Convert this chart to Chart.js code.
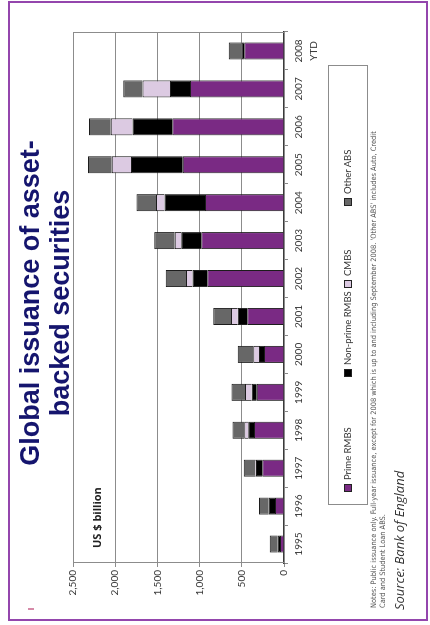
<!DOCTYPE html>
<html>
<head>
<meta charset="utf-8">
<script src="https://cdn.jsdelivr.net/npm/chart.js@4/dist/chart.umd.min.js"></script>
<style>
  body { margin: 0; background: #fff; width: 430px; height: 625px; overflow: hidden; position: relative; }
  /* slide frame, drawn in screen orientation */
  #frame { position: absolute; left: 8px; top: 1px; width: 420px; height: 620px; box-sizing: border-box; border: 2px solid #9446ad; }
  #mark { position: absolute; left: 28px; top: 608px; width: 6px; height: 2px; background: #d68aa8; }
  /* the slide content is laid out landscape and turned a quarter turn */
  #page { position: absolute; left: 0; top: 0; width: 625px; height: 430px; transform-origin: 0 0; transform: translate(0, 625px) rotate(-90deg); }
  #page canvas { position: absolute; left: 0; top: 0; }
  #title { position: absolute; left: 122px; top: 15px; width: 400px; text-align: center; font: bold 27px/30px "Liberation Sans", Arial, sans-serif; color: #15156e; }
  #unit { position: absolute; left: 77px; top: 89px; font: bold 11px "Open Sans", sans-serif; color: #222; white-space: nowrap; }
  #legend { position: absolute; left: 120px; top: 328px; width: 440px; height: 40px; box-sizing: border-box; border: 1px solid #8c8c8c; }
  .item { position: absolute; top: 13px; font: 9.5px Lato, sans-serif; color: #333; white-space: nowrap; display: flex; align-items: center; }
  .item i { display: inline-block; width: 6px; height: 6px; border: 1px solid #222; margin-right: 4px; }
  #notes { position: absolute; left: 17px; top: 369px; width: 600px; font: 7.4px/9px "Liberation Sans Narrow", "DejaVu Sans Condensed", sans-serif; color: #555; }
  #source { position: absolute; left: 15px; top: 390px; font: italic 13px "Open Sans", sans-serif; color: #333; white-space: nowrap; }
</style>
</head>
<body>
<div id="frame"></div>
<div id="mark"></div>
<div id="page">
  <canvas id="absChart" width="625" height="430"></canvas>
  <div id="title">Global issuance of asset-<br>backed securities</div>
  <div id="unit">US $ billion</div>
  <div id="legend"></div>
  <div id="notes">Notes: Public issuance only. Full-year issuance, except for 2008 which is up to and including September 2008. 'Other ABS' includes Auto, Credit<br>Card and Student Loan ABS.</div>
  <div id="source">Source: Bank of England</div>
</div>
<script>
// issuance by year, US$ billion (2008 is year to date)
const years = ['1995', '1996', '1997', '1998', '1999', '2000', '2001', '2002', '2003', '2004', '2005', '2006', '2007', ['2008', 'YTD']];
const primeRmbs = [47, 107, 257, 356, 324, 237, 435, 910, 981, 937, 1200, 1325, 1115, 470];
const nonPrimeRmbs = [28, 75, 75, 67, 59, 60, 114, 173, 237, 478, 613, 470, 237, 35];
const cmbs = [0, 0, 10, 48, 80, 67, 80, 79, 75, 103, 229, 257, 324, 5];
const otherAbs = [95, 115, 136, 138, 158, 185, 209, 238, 245, 229, 281, 257, 230, 145];
const valueTicks = [0, 500, 1000, 1500, 2000, 2500];

const seriesNames = ['Prime RMBS', 'Non-prime RMBS', 'CMBS', 'Other ABS'];
const seriesData = [primeRmbs, nonPrimeRmbs, cmbs, otherAbs];
const seriesColors = ['#7a2a84', '#000000', '#dccae2', '#676767'];

// legend laid out like the spreadsheet one: fixed slots along the box
const legendSlots = [12, 127, 216, 298];
const legend = document.getElementById('legend');
seriesNames.forEach((name, i) => {
    const el = document.createElement('div');
    el.className = 'item';
    el.style.left = legendSlots[i] + 'px';
    el.innerHTML = `<i style="background:${seriesColors[i]}"></i>${name}`;
    legend.appendChild(el);
});

// box round the plot area
const framePlugin = {
    id: 'plotFrame',
    afterDraw(chart) {
        const { ctx, chartArea: a } = chart;
        ctx.save();
        ctx.strokeStyle = '#8c8c8c';
        ctx.lineWidth = 1;
        ctx.strokeRect(a.left + 0.5, a.top + 0.5, a.right - a.left - 1, a.bottom - a.top);
        ctx.restore();
    }
};

const ctx = document.getElementById('absChart').getContext('2d');
new Chart(ctx, {
    type: 'bar',
    data: {
        labels: years,
        datasets: seriesNames.map((name, i) => ({
            label: name,
            data: seriesData[i],
            backgroundColor: seriesColors[i],
            borderColor: '#1c1c1c',
            borderWidth: 1,
            barPercentage: 0.45,
            categoryPercentage: 1
        }))
    },
    options: {
        responsive: false,
        animation: false,
        layout: { padding: { top: 73, right: 32, left: 0, bottom: 0 } },
        plugins: { legend: { display: false }, tooltip: { enabled: false } },
        scales: {
            x: {
                stacked: true,
                grid: { offset: true, drawOnChartArea: false, tickLength: 4, color: '#888' },
                border: { color: '#3a3a3a', width: 1.5 },
                ticks: { color: '#333', font: { family: 'Lato', size: 10, lineHeight: 1.5 }, padding: 3, maxRotation: 0, autoSkip: false },
                afterFit: s => { s.height = 146; }
            },
            y: {
                stacked: true,
                min: 0,
                max: 2500,
                afterBuildTicks: s => { s.ticks = valueTicks.map(v => ({ value: v })); },
                grid: { color: '#8c8c8c', tickLength: 4 },
                border: { color: '#8c8c8c' },
                ticks: { color: '#333', font: { family: 'Lato', size: 10 }, padding: 3, callback: v => v.toLocaleString('en-US') },
                afterFit: s => { s.width = 62; }
            }
        }
    },
    plugins: [framePlugin]
});
</script>
</body>
</html>
